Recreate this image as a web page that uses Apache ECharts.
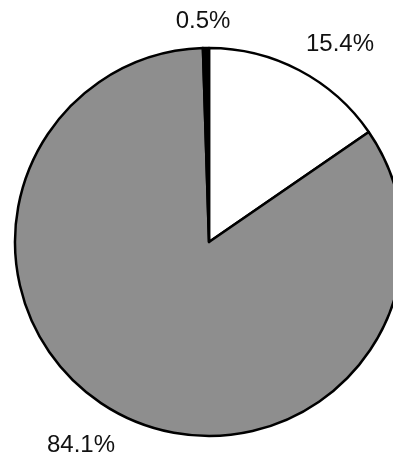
<!DOCTYPE html>
<html>
<head>
<meta charset="utf-8">
<script src="https://cdn.jsdelivr.net/npm/echarts@6/dist/echarts.min.js"></script>
<style>
html,body{margin:0;padding:0;background:#fff;}
#c{width:393px;height:455px;}
</style>
</head>
<body>
<div id="c"></div>
<script>
// Data
var categories = ['A', 'B', 'C'];
var values = [15.4, 84.1, 0.5];
var labels = ['15.4%', '84.1%', '0.5%'];

// Styles (not data)
var colors = ['#ffffff', '#8e8e8e', '#000000'];
var labelPos = [[340, 44], [81, 445], [203, 21]];

var chart = echarts.init(document.getElementById('c'), null, {renderer: 'canvas'});
chart.setOption({
  animation: false,
  backgroundColor: '#ffffff',
  series: [{
    type: 'pie',
    center: [209, 242],
    radius: 194,
    startAngle: 90,
    clockwise: true,
    avoidLabelOverlap: false,
    data: categories.map(function (c, i) {
      return {
        name: c,
        value: values[i],
        itemStyle: {color: colors[i]}
      };
    }),
    itemStyle: {borderColor: '#000', borderWidth: 2.5},
    emphasis: {disabled: true},
    label: {
      show: true,
      position: 'outside',
      formatter: function (p) { return labels[p.dataIndex]; },
      fontFamily: 'Liberation Sans, Arial, sans-serif',
      fontSize: 24,
      color: '#111'
    },
    labelLine: {show: false},
    labelLayout: function (p) {
      var pos = labelPos[p.dataIndex];
      return {x: pos[0], y: pos[1], align: 'center', verticalAlign: 'middle', hideOverlap: false};
    }
  }]
});
</script>
</body>
</html>
